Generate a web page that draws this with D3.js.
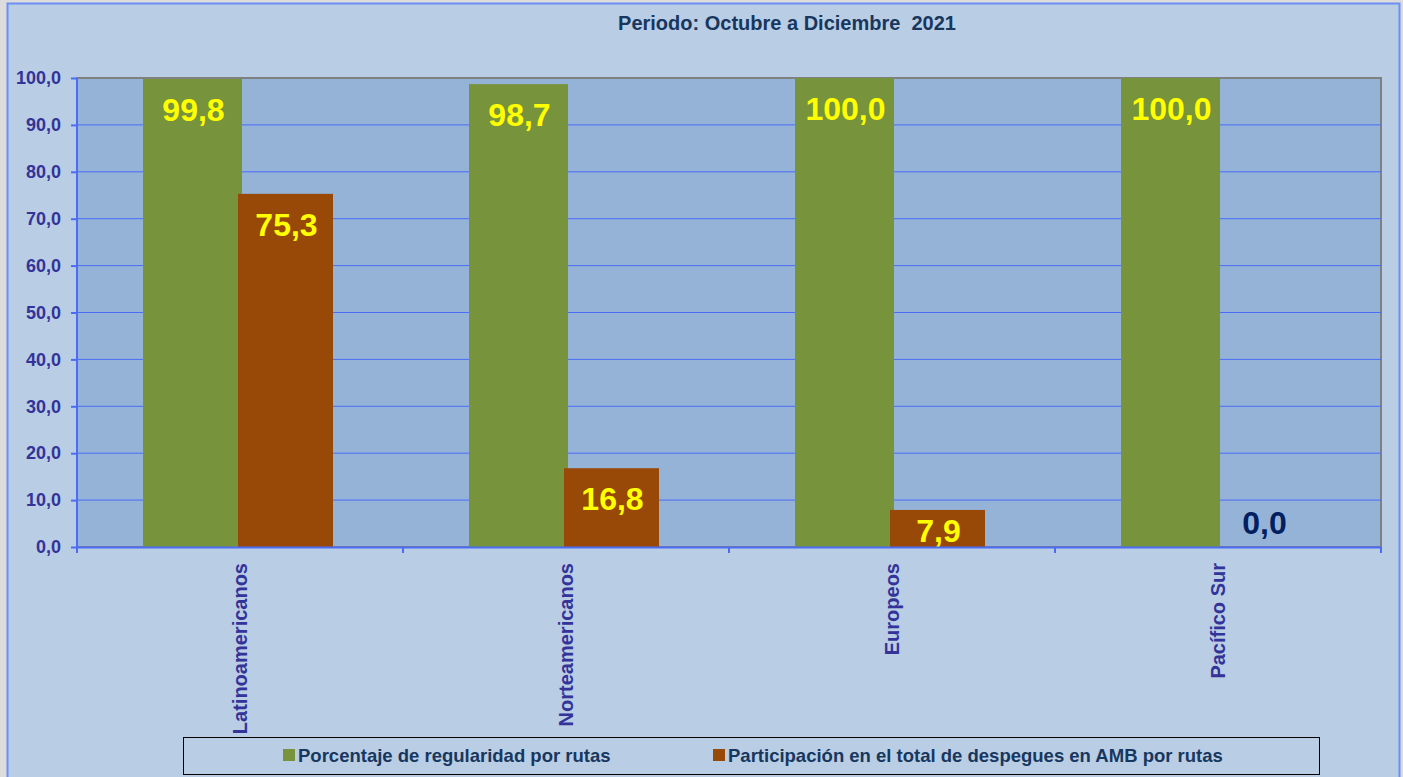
<!DOCTYPE html>
<html>
<head>
<meta charset="utf-8">
<script src="https://cdn.jsdelivr.net/npm/d3@7"></script>
<style>
  body { margin: 0; background: #dcdcdc; font-family: "Liberation Sans", Arial, sans-serif; }
</style>
</head>
<body>
<script>
var categories = ["Latinoamericanos", "Norteamericanos", "Europeos", "Pacífico Sur"];
var seriesNames = ["Porcentaje de regularidad por rutas", "Participación en el total de despegues en AMB por rutas"];
var regularidad = [99.8, 98.7, 100.0, 100.0];
var participacion = [75.3, 16.8, 7.9, 0.0];
var yTicks = [0, 10, 20, 30, 40, 50, 60, 70, 80, 90, 100];
var title = "Periodo: Octubre a Diciembre  2021";

var width = 1403, height = 777;
var colors = ["#77933C", "#984807"];
var fmt = function (v) { return v.toFixed(1).replace(".", ","); };

var svg = d3.select("body").append("svg")
    .attr("width", width)
    .attr("height", height);

// chart background
svg.append("rect")
    .attr("x", 7.5).attr("y", 3.5)
    .attr("width", 1392).attr("height", 780)
    .attr("fill", "#B9CDE5")
    .attr("stroke", "#6C8EF5").attr("stroke-width", 2);

svg.append("text")
    .attr("x", 787).attr("y", 30)
    .attr("text-anchor", "middle")
    .attr("font-size", 20).attr("font-weight", "bold")
    .attr("fill", "#17375E")
    .style("white-space", "pre")
    .text(title);

var plotL = 77, plotR = 1381, plotT = 78, plotB = 547;

var x = d3.scaleBand().domain(categories).range([plotL, plotR]);
var y = d3.scaleLinear().domain([0, 100]).range([plotB, plotT]);

svg.append("rect")
    .attr("x", plotL).attr("y", plotT)
    .attr("width", plotR - plotL).attr("height", plotB - plotT)
    .attr("fill", "#95B3D7")
    .attr("stroke", "#808080").attr("stroke-width", 2);

svg.append("g").selectAll("line")
    .data(yTicks.slice(1, -1))
    .enter().append("line")
    .attr("x1", plotL).attr("x2", plotR)
    .attr("y1", function (d) { return y(d); })
    .attr("y2", function (d) { return y(d); })
    .attr("stroke", "#4A6CF7").attr("stroke-width", 1);

// bars (green slightly overlaps the brown one, like the original)
var series = [regularidad, participacion];
var offsets = [66, 161];
var widths = [99, 95];

series.forEach(function (vals, s) {
    svg.append("g").selectAll("rect")
        .data(vals)
        .enter().append("rect")
        .attr("x", function (d, i) { return x(categories[i]) + offsets[s]; })
        .attr("y", function (d) { return y(d); })
        .attr("width", widths[s])
        .attr("height", function (d) { return plotB - y(d); })
        .attr("fill", colors[s]);
});

series.forEach(function (vals, s) {
    svg.append("g").selectAll("text")
        .data(vals)
        .enter().append("text")
        .attr("x", function (d, i) { return x(categories[i]) + offsets[s] + widths[s] / 2 + 1; })
        .attr("y", function (d) { return d > 0 ? Math.min(y(d) + 42, plotB - 5) : plotB - 13; })
        .attr("text-anchor", "middle")
        .attr("font-size", 32).attr("font-weight", "bold")
        .attr("fill", function (d) { return d > 0 ? "#FFFF00" : "#002060"; })
        .text(function (d) { return fmt(d); });
});

// axes
var yAxis = d3.axisLeft(y).tickValues(yTicks).tickFormat(fmt).tickSize(6).tickPadding(10);
var gy = svg.append("g")
    .attr("transform", "translate(" + plotL + ",0)")
    .call(yAxis);
gy.select(".domain").attr("stroke", "#4A6CF7").attr("stroke-width", 2).attr("d", "M0," + (plotB + 6) + "V" + plotT);
gy.selectAll(".tick line").attr("stroke", "#4A6CF7").attr("stroke-width", 2);
gy.selectAll(".tick text")
    .attr("font-family", "Liberation Sans, Arial, sans-serif")
    .attr("font-size", 18).attr("font-weight", "bold")
    .attr("fill", "#333399");

var xAxis = d3.axisBottom(x).tickSize(0).tickFormat("");
var gx = svg.append("g")
    .attr("transform", "translate(0," + plotB + ")")
    .call(xAxis);
gx.select(".domain").attr("stroke", "#4A6CF7").attr("stroke-width", 2);
gx.selectAll(".sep")
    .data(d3.range(categories.length + 1))
    .enter().append("line")
    .attr("x1", function (d) { return plotL + d * x.bandwidth(); })
    .attr("x2", function (d) { return plotL + d * x.bandwidth(); })
    .attr("y1", 0).attr("y2", 6)
    .attr("stroke", "#4A6CF7").attr("stroke-width", 2);

svg.append("g").selectAll("text")
    .data(categories)
    .enter().append("text")
    .attr("transform", function (d) {
        return "translate(" + (x(d) + x.bandwidth() / 2 + 7) + "," + (plotB + 16) + ") rotate(-90)";
    })
    .attr("text-anchor", "end")
    .attr("font-size", 20).attr("font-weight", "bold")
    .attr("fill", "#333399")
    .text(function (d) { return d; });

// legend
var legend = svg.append("g");
legend.append("rect")
    .attr("x", 183.5).attr("y", 737.5)
    .attr("width", 1136).attr("height", 37)
    .attr("fill", "none").attr("stroke", "#000").attr("stroke-width", 1);

var legendX = [283, 713];
seriesNames.forEach(function (name, i) {
    legend.append("rect")
        .attr("x", legendX[i]).attr("y", 749)
        .attr("width", 12).attr("height", 12)
        .attr("fill", colors[i]);
    legend.append("text")
        .attr("x", legendX[i] + 15).attr("y", 762)
        .attr("font-size", 18.5).attr("font-weight", "bold")
        .attr("fill", "#17375E")
        .text(name);
});
</script>
</body>
</html>
